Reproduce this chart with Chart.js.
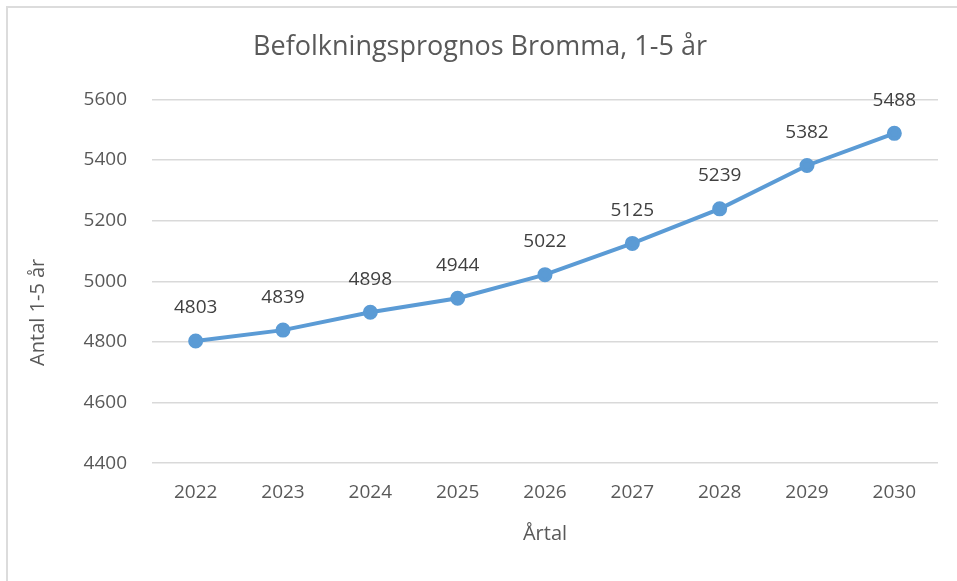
<!DOCTYPE html>
<html>
<head>
<meta charset="utf-8">
<script src="https://cdn.jsdelivr.net/npm/chart.js@4.4.0/dist/chart.umd.min.js"></script>
<style>
  html, body { margin: 0; padding: 0; background: #fff; }
  #frame {
    position: absolute; left: 6px; top: 6px; width: 1000px; height: 600px;
    border-left: 2px solid #dcdcdc; border-top: 2px solid #dcdcdc;
  }
  #wrap { position: absolute; left: 0; top: 0; width: 957px; height: 581px; }
</style>
</head>
<body>
<div id="frame"></div>
<div id="wrap"><canvas id="popChart" width="957" height="581"></canvas></div>
<script>
// Befolkningsprognos Bromma, 1-5 år
const years = ['2022', '2023', '2024', '2025', '2026', '2027', '2028', '2029', '2030'];
const children = [4803, 4839, 4898, 4944, 5022, 5125, 5239, 5382, 5488];
const yTicks = [4400, 4600, 4800, 5000, 5200, 5400, 5600];
const yTitle = 'Antal 1-5 år';

const textColor = '#595959';
const lineColor = '#5b9bd5';
const fontFamily = '"Open Sans", sans-serif';

// value labels above each point + y axis title (sits a bit low, like Excel)
const valueLabels = {
  id: 'valueLabels',
  afterDatasetsDraw(chart) {
    const ctx = chart.ctx;
    const meta = chart.getDatasetMeta(0);
    ctx.save();
    ctx.font = '19px ' + fontFamily;
    ctx.fillStyle = '#404040';
    ctx.textAlign = 'center';
    ctx.textBaseline = 'middle';
    meta.data.forEach(function (pt, i) {
      ctx.fillText(String(children[i]), pt.x, pt.y - 33);
    });
    ctx.restore();

    const area = chart.chartArea;
    ctx.save();
    ctx.font = '20px ' + fontFamily;
    ctx.fillStyle = textColor;
    ctx.textAlign = 'center';
    ctx.textBaseline = 'middle';
    ctx.translate(38, (area.top + area.bottom) / 2 + 31);
    ctx.rotate(-Math.PI / 2);
    ctx.fillText(yTitle, 0, 0);
    ctx.restore();
  }
};

document.addEventListener('DOMContentLoaded', function () {
  const ctx = document.getElementById('popChart');
  new Chart(ctx, {
    type: 'line',
    data: {
      labels: years,
      datasets: [{
        label: yTitle,
        data: children,
        borderColor: lineColor,
        backgroundColor: lineColor,
        borderWidth: 4,
        tension: 0,
        fill: false,
        pointRadius: 5.5,
        pointBackgroundColor: lineColor,
        pointBorderColor: lineColor,
        clip: false
      }]
    },
    options: {
      responsive: false,
      animation: false,
      layout: { padding: { left: 22, right: 19, top: 0, bottom: 31 } },
      plugins: {
        legend: { display: false },
        tooltip: { enabled: false },
        title: {
          display: true,
          text: 'Befolkningsprognos Bromma, 1-5 år',
          color: textColor,
          font: { family: fontFamily, size: 27, weight: 'normal' },
          padding: { top: 31, bottom: 36 }
        }
      },
      scales: {
        x: {
          offset: true,
          grid: { display: false, drawTicks: false },
          border: { display: false },
          ticks: { color: textColor, font: { family: fontFamily, size: 19 }, padding: 18 },
          title: {
            display: true, text: 'Årtal', color: textColor,
            font: { family: fontFamily, size: 20 }, padding: { top: 0, bottom: 4 }
          }
        },
        y: {
          min: 4400,
          max: 5600,
          afterBuildTicks: function (axis) {
            axis.ticks = yTicks.map(function (v) { return { value: v }; });
          },
          afterFit: function (axis) { axis.width = 130; },
          grid: { color: '#d9d9d9', lineWidth: 1.5, drawTicks: false },
          border: { display: false },
          ticks: {
            color: textColor, font: { family: fontFamily, size: 19 }, padding: 25,
            callback: function (v) { return String(v); }
          },
          title: { display: false }
        }
      }
    },
    plugins: [valueLabels]
  });
});
</script>
</body>
</html>
